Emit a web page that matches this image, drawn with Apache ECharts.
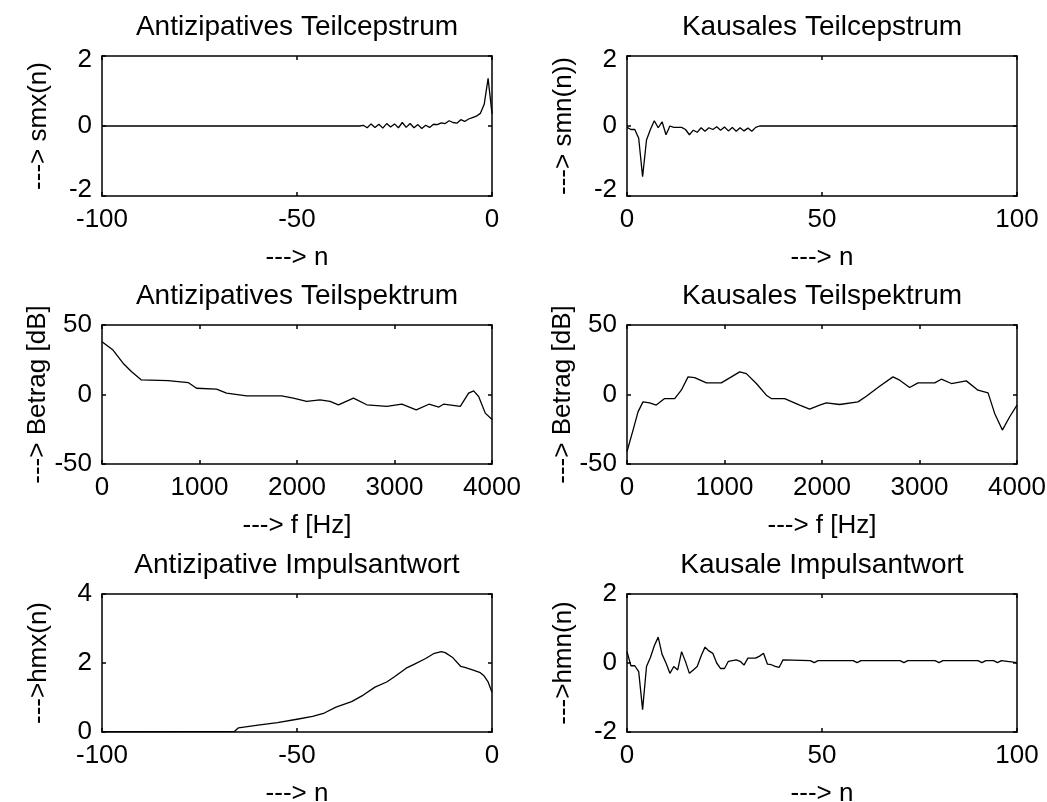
<!DOCTYPE html>
<html><head><meta charset="utf-8">
<script src="https://cdn.jsdelivr.net/npm/echarts@6/dist/echarts.min.js"></script>
<style>html,body{margin:0;padding:0;background:#fff}#c{width:1047px;height:802px}</style>
</head><body><div id="c"></div>
<script>
// ---------- DATA ----------
const titles = ['Antizipatives Teilcepstrum','Kausales Teilcepstrum','Antizipatives Teilspektrum','Kausales Teilspektrum','Antizipative Impulsantwort','Kausale Impulsantwort'];
const xNames = ['---> n','---> n','---> f [Hz]','---> f [Hz]','---> n','---> n'];
const yNames = ['---> smx(n)','---> smn(n))','---> Betrag [dB]','---> Betrag [dB]','--->hmx(n)','--->hmn(n)'];
const xMin = [-100, 0, 0, 0, -100, 0];
const xMax = [0, 100, 4000, 4000, 0, 100];
const xStep = [50, 50, 1000, 1000, 50, 50];
const yMin = [-2, -2, -50, -50, 0, -2];
const yMax = [2, 2, 50, 50, 4, 2];
const yStep = [2, 2, 50, 50, 2, 2];

// Antizipatives Teilcepstrum [n, smx]
const smx = [[-100,0],[-34,0],[-33,0.02],[-32,-0.05],[-31,0.06],[-30,-0.04],[-29,0.05],[-28,-0.06],[-27,0.07],[-26,-0.03],[-25,0.06],[-24,-0.05],[-23,0.1],[-22,-0.04],[-21,0.07],[-20,-0.05],[-19,0.04],[-18,-0.07],[-17,0.02],[-16,-0.04],[-15,0.05],[-14,0.04],[-13,0.09],[-12,0.07],[-11,0.15],[-10,0.1],[-9,0.08],[-8,0.18],[-7,0.13],[-6,0.2],[-5,0.24],[-4,0.28],[-3,0.36],[-2,0.62],[-1,1.36],[0,0.35]];
// Kausales Teilcepstrum [n, smn]
const smn = [[0,-0.04],[1,-0.1],[2,-0.1],[3,-0.35],[4,-1.45],[5,-0.4],[6,-0.1],[7,0.15],[8,-0.05],[9,0.12],[10,-0.25],[11,0.0],[12,-0.04],[13,-0.04],[14,-0.04],[15,-0.1],[16,-0.25],[17,-0.12],[18,-0.18],[19,-0.05],[20,-0.15],[21,-0.05],[22,-0.1],[23,-0.02],[24,-0.12],[25,-0.03],[26,-0.14],[27,-0.04],[28,-0.15],[29,-0.05],[30,-0.14],[31,-0.06],[32,-0.15],[33,-0.04],[34,0],[100,0]];
// Antizipatives Teilspektrum [Hz, dB]
const specAnti = [[0,38],[113,32],[216,22.5],[301,16.5],[404,10.5],[678,10],[884,8.6],[969,4.5],[1175,3.8],[1277,1],[1483,-1],[1842,-1],[1962,-2.6],[2099,-5],[2236,-3.8],[2339,-5],[2425,-7.4],[2579,-2.6],[2716,-7.4],[2921,-8.6],[3075,-7],[3223,-11],[3353,-7],[3455,-9],[3503,-7],[3675,-8.6],[3760,1],[3812,2.6],[3863,-1.4],[3931,-13.4],[4000,-18]];
// Kausales Teilspektrum [Hz, dB]
const specKaus = [[0,-41],[62,-25.6],[113,-12.5],[164,-5.3],[232,-6],[300,-7.6],[386,-2.9],[489,-2.9],[557,3.1],[626,12.7],[694,12.2],[814,8.4],[967,8.4],[1070,12.7],[1156,16.3],[1224,15],[1327,7.9],[1429,-0.5],[1480,-2.9],[1617,-2.9],[1771,-7.6],[1873,-10.5],[1976,-7.6],[2044,-6],[2181,-7.2],[2369,-5.3],[2455,-1.2],[2591,6],[2728,12.7],[2797,10.3],[2899,5],[2985,8.4],[3156,8.4],[3224,11],[3327,7.9],[3480,9.8],[3600,3.1],[3703,1.2],[3771,-13.6],[3850,-25.6],[3925,-16],[4000,-7.6]];
// Antizipative Impulsantwort [n, hmx]
const hmx = [[-100,0.01],[-66,0.02],[-65,0.12],[-60,0.2],[-55,0.27],[-50,0.37],[-46,0.45],[-43,0.55],[-40,0.72],[-36,0.88],[-33,1.07],[-30,1.3],[-27,1.45],[-25,1.6],[-22,1.85],[-20,1.96],[-17,2.13],[-15,2.27],[-13,2.33],[-12,2.3],[-10,2.15],[-8,1.9],[-7,1.87],[-5,1.8],[-3,1.72],[-2,1.62],[-1,1.45],[0,1.15]];
// Kausale Impulsantwort [n, hmn]
const hmn = [[0,0.33],[1,-0.08],[2,-0.08],[3,-0.25],[4,-1.35],[5,-0.1],[6,0.16],[7,0.5],[8,0.75],[9,0.25],[10,0.0],[11,-0.3],[12,-0.1],[13,-0.2],[14,0.33],[15,0.04],[16,-0.3],[17,-0.2],[18,-0.1],[19,0.2],[20,0.46],[21,0.35],[22,0.28],[23,0.0],[24,-0.16],[25,-0.16],[26,0.05],[27,0.07],[28,0.09],[29,0.05],[30,-0.06],[31,0.14],[32,0.14],[33,0.14],[34,0.2],[35,0.28],[36,-0.03],[37,-0.05],[38,-0.1],[39,-0.13],[40,0.09],[47,0.07],[48,0.01],[49,0.07],[58,0.07],[59,0.01],[60,0.07],[70,0.07],[71,0.01],[72,0.07],[79,0.07],[80,0.01],[81,0.07],[90,0.07],[91,0.01],[92,0.07],[94,0.07],[95,0.01],[96,0.07],[100,0.01]];

const seriesData = [smx, smn, specAnti, specKaus, hmx, hmn];

// ---------- LAYOUT / STYLE ----------
const FONT = 'Liberation Sans';
const FS = 26;
const TFS = 28;
const grids = [
  {left:102, top:56, width:390, height:140},
  {left:627, top:56, width:390, height:140},
  {left:102, top:325, width:390, height:139},
  {left:627, top:325, width:390, height:139},
  {left:102, top:594, width:390, height:138},
  {left:627, top:594, width:390, height:138}
];
const lineCol = '#000';
const txt = {color:'#000', fontFamily:FONT, fontSize:FS};

const xAxes = [], yAxes = [], series = [], graphics = [];
grids.forEach((g, i) => {
  const axLine = {show:true, onZero:false, lineStyle:{color:lineCol, width:1.5}};
  const axTick = {show:true, inside:true, length:4, lineStyle:{color:lineCol, width:1.5}};
  xAxes.push({gridIndex:i, type:'value', position:'bottom', min:xMin[i], max:xMax[i], interval:xStep[i],
    axisLine:axLine, axisTick:axTick, splitLine:{show:false},
    axisLabel:Object.assign({margin:11, formatter: v => String(v)}, txt),
    name:xNames[i], nameLocation:'middle', nameGap:49, nameTextStyle:txt});
  xAxes.push({gridIndex:i, type:'value', position:'top', min:xMin[i], max:xMax[i], interval:xStep[i],
    axisLine:axLine, axisTick:axTick, splitLine:{show:false}, axisLabel:{show:false}});
  const tight = (i < 2);
  const yLab = Object.assign({margin:10, formatter: v => String(v)}, txt);
  if (tight) {
    yLab.formatter = v => v === yMin[i] ? '{lo|' + v + '}' : (v === yMax[i] ? '{hi|' + v + '}' : String(v));
    yLab.rich = {
      lo: Object.assign({padding:[0,0,12,0]}, txt),
      hi: Object.assign({padding:[8,0,0,0]}, txt)
    };
  }
  yAxes.push({gridIndex:i, type:'value', position:'left', min:yMin[i], max:yMax[i], interval:yStep[i],
    axisLine:axLine, axisTick:axTick, splitLine:{show:false}, axisLabel:yLab,
    name:yNames[i], nameLocation:'middle', nameGap:50, nameTextStyle:txt});
  yAxes.push({gridIndex:i, type:'value', position:'right', min:yMin[i], max:yMax[i], interval:yStep[i],
    axisLine:axLine, axisTick:axTick, splitLine:{show:false}, axisLabel:{show:false}});
  series.push({type:'line', xAxisIndex:2*i, yAxisIndex:2*i, data:seriesData[i], showSymbol:false, symbol:'none',
    lineStyle:{color:lineCol, width:1.3}, silent:true});
  graphics.push({type:'text', x:g.left + g.width/2, y:g.top - 29,
    style:{text:titles[i], fill:'#000', font: TFS + 'px "' + FONT + '"', textAlign:'center', textVerticalAlign:'middle'}});
});

const chart = echarts.init(document.getElementById('c'), null, {renderer:'canvas'});
chart.setOption({
  animation:false,
  backgroundColor:'#fff',
  grid: grids.map(g => Object.assign({show:false, containLabel:false, outerBoundsMode:'none'}, g)),
  xAxis: xAxes,
  yAxis: yAxes,
  series: series,
  graphic: graphics
});
</script>
</body></html>
